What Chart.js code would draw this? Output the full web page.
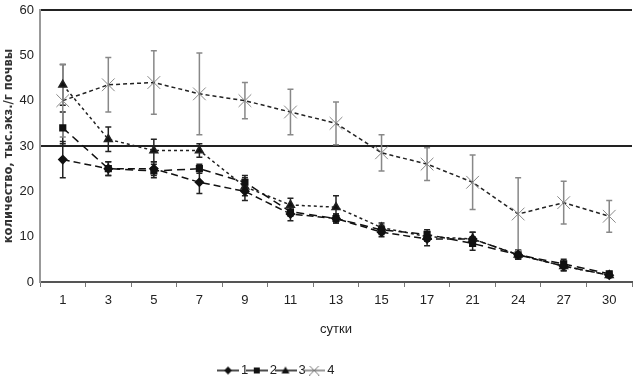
<!DOCTYPE html>
<html>
<head>
<meta charset="utf-8">
<script src="https://cdn.jsdelivr.net/npm/chart.js@4.4.1/dist/chart.umd.min.js"></script>
<style>
  html, body { margin: 0; padding: 0; background: #fff; overflow: hidden; }
  #wrap { width: 642px; height: 377px; }
</style>
</head>
<body>
<div id="wrap"><canvas id="myChart"></canvas></div>
<script>
const days = ['1', '3', '5', '7', '9', '11', '13', '15', '17', '21', '24', '27', '30'];
const series1 = [27, 25, 25, 22, 20, 15, 14, 11, 9.5, 9.5, 6, 3.5, 1.5];
const series2 = [34, 25, 24.5, 25, 22, 15.5, 14, 11.5, 10.5, 8.5, 6, 4, 1.8];
const series3 = [43.5, 31.5, 29, 29, 21, 17, 16.5, 12, 10, 9.5, 6, 3.5, 1.5];
const series4 = [40, 43.5, 44, 41.5, 40, 37.5, 35, 28.5, 26, 22, 15, 17.5, 14.5];
const err1 = [4, 1.5, 1.5, 2.5, 2, 1.5, 1, 1, 1.5, 1.5, 1, 1, 0.5];
const err2 = [3.5, 1.5, 1.5, 1, 1.5, 1, 1, 1, 1, 1.5, 1, 1, 0.5];
const err3 = [4.5, 2.7, 2.5, 1.5, 2, 1.5, 2.5, 1, 1, 1.5, 1, 1, 0.5];
const err4 = [8, 6, 7, 9, 4, 5, 4.7, 4, 3.6, 6, 8, 4.7, 3.5];
const legendNames = ['1', '2', '3', '4'];

const fontFam = "'Liberation Sans Narrow', 'Liberation Sans', Arial, sans-serif";

// small line+marker picture for the legend
function legendIcon(style, color) {
    const c = document.createElement('canvas');
    c.width = 22; c.height = 10;
    const g = c.getContext('2d');
    g.strokeStyle = color; g.fillStyle = color; g.lineWidth = 1.5;
    g.beginPath(); g.moveTo(0, 5); g.lineTo(22, 5); g.stroke();
    g.beginPath();
    if (style === 'rectRot') { g.moveTo(11, 1); g.lineTo(15, 5); g.lineTo(11, 9); g.lineTo(7, 5); g.closePath(); g.fill(); }
    else if (style === 'rect') { g.fillRect(8, 2, 6, 6); }
    else if (style === 'triangle') { g.moveTo(11, 1); g.lineTo(15, 8); g.lineTo(7, 8); g.closePath(); g.fill(); }
    else { g.lineWidth = 1; g.moveTo(6, 0); g.lineTo(16, 10); g.moveTo(16, 0); g.lineTo(6, 10); g.stroke(); }
    return c;
}

const errorBars = {
    id: 'errorBars',
    beforeDatasetsDraw(chart) {
        const ctx = chart.ctx;
        const y = chart.scales.y;
        chart.data.datasets.forEach((ds, i) => {
            const meta = chart.getDatasetMeta(i);
            ctx.save();
            ctx.strokeStyle = ds.errColor;
            ctx.lineWidth = 1.5;
            meta.data.forEach((pt, j) => {
                const v = ds.data[j], e = ds.errors[j];
                const top = y.getPixelForValue(v + e), bot = y.getPixelForValue(v - e);
                ctx.beginPath();
                ctx.moveTo(pt.x, top); ctx.lineTo(pt.x, bot);
                ctx.moveTo(pt.x - 3, top); ctx.lineTo(pt.x + 3, top);
                ctx.moveTo(pt.x - 3, bot); ctx.lineTo(pt.x + 3, bot);
                ctx.stroke();
            });
            ctx.restore();
        });
    }
};

// legend in the original sits left of the centre
const legendShift = {
    id: 'legendShift',
    afterUpdate(chart) {
        if (chart.legend) { chart.legend.left -= 86; }
    }
};

const datasets = [
    { label: legendNames[0], data: series1, errors: err1, errColor: '#222', borderColor: '#111', backgroundColor: '#111',
      borderWidth: 1.5, borderDash: [7, 4], pointStyle: 'rectRot', pointRadius: 4, icon: legendIcon('rectRot', '#111') },
    { label: legendNames[1], data: series2, errors: err2, errColor: '#222', borderColor: '#111', backgroundColor: '#111',
      borderWidth: 1.5, borderDash: [8, 5], pointStyle: 'rect', pointRadius: 4, icon: legendIcon('rect', '#111') },
    { label: legendNames[2], data: series3, errors: err3, errColor: '#222', borderColor: '#222', backgroundColor: '#111',
      borderWidth: 1.5, borderDash: [3, 3], pointStyle: 'triangle', pointRadius: 4.5, icon: legendIcon('triangle', '#111') },
    { label: legendNames[3], data: series4, errors: err4, errColor: '#888', borderColor: '#222', backgroundColor: '#888',
      borderWidth: 1.5, borderDash: [4, 3], pointStyle: 'crossRot', pointRadius: 9, pointBorderColor: '#888', pointBorderWidth: 1,
      icon: legendIcon('crossRot', '#777') }
];

new Chart(document.getElementById('myChart'), {
    type: 'line',
    data: { labels: days, datasets: datasets },
    plugins: [errorBars, legendShift],
    options: {
        responsive: true,
        maintainAspectRatio: false,
        animation: false,
        layout: { padding: { top: 10, right: 0, left: 0, bottom: -10 } },
        scales: {
            x: {
                offset: true,
                grid: { drawOnChartArea: false, drawTicks: true, tickLength: 5, tickColor: '#777', offset: true },
                border: { color: '#555', width: 2 },
                ticks: { color: '#222', font: { family: fontFam, size: 13 }, padding: 6 },
                title: { display: true, text: 'сутки', color: '#222', font: { family: fontFam, size: 13 }, padding: { top: 4, bottom: 25 } },
                afterFit: s => { s.height = 80; }
            },
            y: {
                min: 0, max: 60,
                ticks: { stepSize: 10, color: '#222', font: { family: fontFam, size: 13 }, padding: 6 },
                grid: {
                    drawTicks: false,
                    lineWidth: 2,
                    color: c => (c.tick.value === 30 || c.tick.value === 60) ? '#222' : 'rgba(0,0,0,0)'
                },
                border: { color: '#999', width: 2 },
                title: { display: true, text: 'количество, тыс.экз./г почвы', color: '#333',
                         font: { family: "'DejaVu Sans', sans-serif", size: 11.5, weight: 'bold' }, padding: { top: 2, bottom: 2 } },
                afterFit: s => { s.width = 40; s.paddingTop = 0; s.paddingBottom = 0; }
            }
        },
        plugins: {
            legend: {
                position: 'bottom',
                labels: {
                    usePointStyle: true,
                    generateLabels: chart => chart.data.datasets.map((ds, i) => ({
                        text: ds.label, pointStyle: ds.icon, datasetIndex: i, fontColor: '#222',
                        lineWidth: 0, strokeStyle: 'rgba(0,0,0,0)', fillStyle: 'rgba(0,0,0,0)'
                    })),
                    font: { family: fontFam, size: 13 },
                    padding: 2,
                    boxWidth: 22
                }
            },
            tooltip: { enabled: false }
        }
    }
});
</script>
</body>
</html>
